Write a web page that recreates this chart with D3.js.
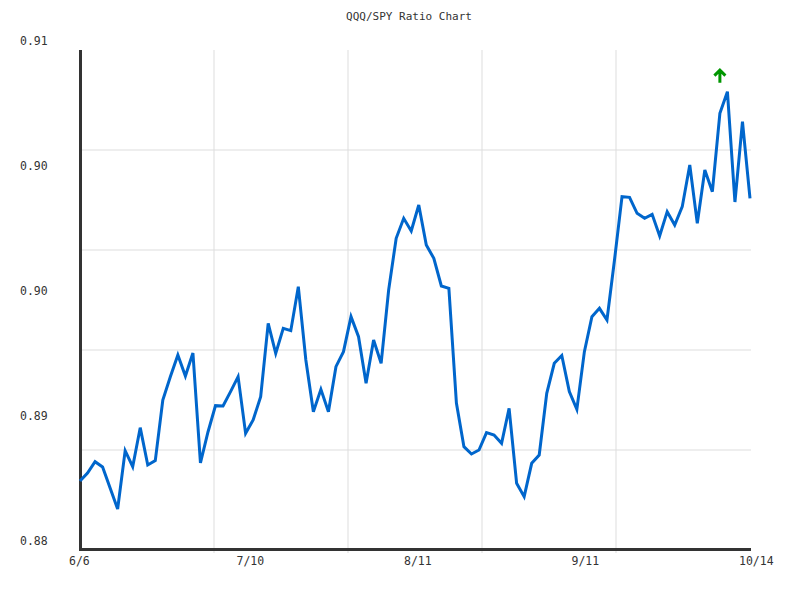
<!DOCTYPE html>
<html>
<head>
<meta charset="utf-8">
<script src="https://cdn.jsdelivr.net/npm/d3@7"></script>
<style>
  body { margin: 0; background: #fff; }
  text { font-family: "DejaVu Sans Mono", monospace; fill: #333; }
</style>
</head>
<body>
<div class="canvas"></div>
<script>
// QQQ/SPY ratio, one value per trading day 6/6 .. 10/14
const ratio = [
  0.88414, 0.88462, 0.8853, 0.88498, 0.88372, 0.88246, 0.88596, 0.885, 0.88734, 0.8851,
  0.88536, 0.889, 0.8904, 0.8917, 0.89044, 0.89182, 0.88522, 0.88708, 0.88866, 0.88864,
  0.8895, 0.8904, 0.887, 0.8878, 0.8892, 0.8936, 0.8918, 0.8933, 0.89316, 0.8958,
  0.8914, 0.8883, 0.88964, 0.8883, 0.891, 0.8919, 0.894, 0.8928, 0.89, 0.8926,
  0.8912, 0.8956, 0.8987, 0.8999, 0.89914, 0.9007, 0.8983, 0.8975, 0.89584, 0.8957,
  0.88882, 0.8862, 0.88576, 0.886, 0.88704, 0.8869, 0.8864, 0.8885, 0.884, 0.8832,
  0.8852, 0.8857, 0.8894, 0.8912, 0.89167, 0.8895, 0.88844, 0.8919, 0.894, 0.8945,
  0.8938, 0.8974, 0.9012, 0.90116, 0.9002, 0.8999, 0.90014, 0.89884, 0.9003, 0.8995,
  0.9006, 0.9031, 0.8996, 0.9028, 0.9015, 0.9062, 0.9075, 0.90088, 0.9057, 0.9011
]

const xTickLabels = ['6/6', '7/10', '8/11', '9/11', '10/14']
const yTickValues = [0.88, 0.8875, 0.895, 0.9025, 0.91]
const yTickLabels = ['0.88', '0.89', '0.90', '0.90', '0.91']
const signalIndex = [85]   // green "up" marker

const dimensions = { width: 800, height: 600 }
const margin = { top: 50, right: 50, bottom: 50, left: 80 }
const graphWidth = dimensions.width - margin.left - margin.right
const graphHeight = dimensions.height - margin.top - margin.bottom

const svg = d3.select('.canvas')
  .append('svg')
  .attr('width', dimensions.width)
  .attr('height', dimensions.height)

// title
svg.append('text')
  .attr('x', 409)
  .attr('y', 16)
  .attr('text-anchor', 'middle')
  .attr('dominant-baseline', 'central')
  .style('font-size', '11px')
  .text('QQQ/SPY Ratio Chart')

const graph = svg.append('g')
  .attr('transform', `translate(${margin.left}, ${margin.top})`)

// scales
const x = d3.scaleLinear()
  .domain([0, ratio.length - 1])
  .range([0, graphWidth])

const y = d3.scaleLinear()
  .domain([0.88, 0.91])
  .range([graphHeight, 0])

// grid - 5 divisions each way
const xGrid = d3.range(1, 5).map(k => (ratio.length - 1) * k / 5)
const yGrid = d3.range(1, 5).map(k => 0.88 + 0.03 * k / 5)

graph.selectAll('.vgrid')
  .data(xGrid)
  .enter().append('line')
  .attr('x1', d => x(d)).attr('x2', d => x(d))
  .attr('y1', 0).attr('y2', graphHeight + 3)
  .attr('stroke', '#ddd')

graph.selectAll('.hgrid')
  .data(yGrid)
  .enter().append('line')
  .attr('x1', 0).attr('x2', graphWidth + 1)
  .attr('y1', d => y(d)).attr('y2', d => y(d))
  .attr('stroke', '#ddd')

// axis lines
graph.append('line')
  .attr('x1', 0.5).attr('x2', 0.5)
  .attr('y1', 0).attr('y2', graphHeight + 1)
  .attr('stroke', '#333').attr('stroke-width', 3)

graph.append('line')
  .attr('x1', -1).attr('x2', graphWidth + 1)
  .attr('y1', graphHeight - 0.5).attr('y2', graphHeight - 0.5)
  .attr('stroke', '#333').attr('stroke-width', 3)

// y labels (left aligned, sitting just above their value)
svg.selectAll('.ylabel')
  .data(yTickValues)
  .enter().append('text')
  .attr('x', 20)
  .attr('y', d => margin.top + y(d) - 9.5)
  .attr('dominant-baseline', 'central')
  .style('font-size', '11.5px')
  .text((d, i) => yTickLabels[i])

// x labels at quarter points
svg.selectAll('.xlabel')
  .data(xTickLabels)
  .enter().append('text')
  .attr('x', (d, i) => margin.left + x((ratio.length - 1) * i / 4) - 11)
  .attr('y', 561)
  .attr('dominant-baseline', 'central')
  .style('font-size', '11.5px')
  .text(d => d)

// ratio line
const line = d3.line()
  .x((d, i) => x(i))
  .y(d => y(d))

graph.append('path')
  .datum(ratio)
  .attr('fill', 'none')
  .attr('stroke', '#0066cc')
  .attr('stroke-width', 3)
  .attr('stroke-linejoin', 'miter')
  .attr('d', line)

// signal arrows
const maxVal = d3.max(ratio)
graph.selectAll('.signal')
  .data(signalIndex)
  .enter().append('path')
  .attr('transform', d => `translate(${x(d)}, ${y(maxVal) - 22})`)
  .attr('d', 'M-5.5,6 L0,0.5 L5.5,6 M0,0.5 L0,13')
  .attr('fill', 'none')
  .attr('stroke', '#009600')
  .attr('stroke-width', 3)
</script>
</body>
</html>
